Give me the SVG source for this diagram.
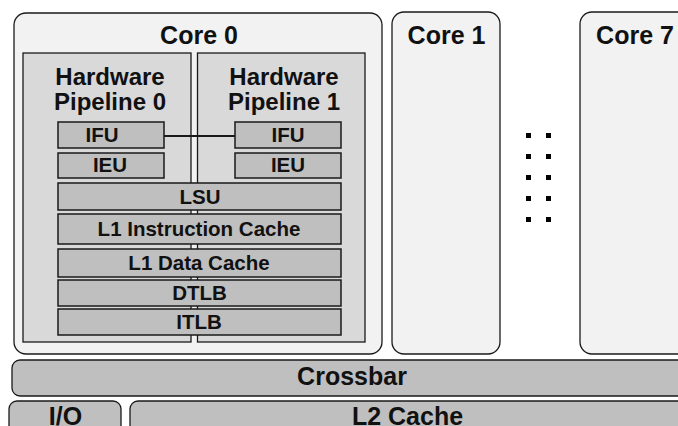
<svg xmlns="http://www.w3.org/2000/svg" width="678" height="426" viewBox="0 0 678 426">
<style>
text{font-family:"Liberation Sans",Arial,sans-serif;font-weight:bold;fill:#111;text-anchor:middle}
.core{fill:#f2f2f2;stroke:#1a1a1a;stroke-width:1.3}
.pipe{fill:#d9d9d9;stroke:#1a1a1a;stroke-width:1.3}
.unit{fill:#bfbfbf;stroke:#1a1a1a;stroke-width:1.5}
.bus{fill:#bfbfbf;stroke:#1a1a1a;stroke-width:1.3}
.big{font-size:25px}
.mid{font-size:24px}
.sm{font-size:20.5px}
.dot{fill:#000}
</style>
<rect width="678" height="426" fill="#ffffff"/>
<g id="core0">
<rect class="core" x="14" y="13" width="368" height="341" rx="12"/>
<text class="big" x="199" y="44">Core 0</text>
</g>
<g id="pipeline0">
<rect class="pipe" x="23" y="53" width="168" height="289"/>
<text class="mid" x="110" y="85">Hardware</text>
<text class="mid" x="110" y="110">Pipeline 0</text>
</g>
<g id="pipeline1">
<rect class="pipe" x="197.5" y="53" width="167.5" height="289"/>
<text class="mid" x="284" y="85">Hardware</text>
<text class="mid" x="284" y="110">Pipeline 1</text>
</g>
<g id="connectors">
<line x1="164" y1="136" x2="235" y2="136" stroke="#1a1a1a" stroke-width="1.8"/>
</g>
<g id="ifu0">
<rect class="unit" x="58" y="122" width="106" height="26"/>
<text class="sm" x="102" y="142">IFU</text>
</g>
<g id="ieu0">
<rect class="unit" x="58" y="153" width="106" height="25"/>
<text class="sm" x="110" y="171.5">IEU</text>
</g>
<g id="ifu1">
<rect class="unit" x="235" y="122" width="106" height="26"/>
<text class="sm" x="288" y="142">IFU</text>
</g>
<g id="ieu1">
<rect class="unit" x="235" y="153" width="106" height="25"/>
<text class="sm" x="288" y="171.5">IEU</text>
</g>
<g id="lsu">
<rect class="unit" x="58" y="183" width="283" height="27"/>
<text class="sm" x="200" y="203.5">LSU</text>
</g>
<g id="l1i">
<rect class="unit" x="58" y="214" width="283" height="30"/>
<text class="sm" x="199" y="236">L1 Instruction Cache</text>
</g>
<g id="l1d">
<rect class="unit" x="58" y="249" width="283" height="28"/>
<text class="sm" x="199" y="269.5">L1 Data Cache</text>
</g>
<g id="dtlb">
<rect class="unit" x="58" y="280" width="283" height="26"/>
<text class="sm" x="199.5" y="299.5">DTLB</text>
</g>
<g id="itlb">
<rect class="unit" x="58" y="309" width="283" height="26"/>
<text class="sm" x="199" y="328.5">ITLB</text>
</g>
<g id="core1">
<rect class="core" x="392" y="12" width="108" height="342" rx="12"/>
<text class="big" x="446.5" y="44">Core 1</text>
</g>
<g id="ellipsis">
<rect class="dot" x="526" y="133" width="5" height="5"/>
<rect class="dot" x="546" y="133" width="5" height="5"/>
<rect class="dot" x="526" y="154" width="5" height="5"/>
<rect class="dot" x="546" y="154" width="5" height="5"/>
<rect class="dot" x="526" y="175" width="5" height="5"/>
<rect class="dot" x="546" y="175" width="5" height="5"/>
<rect class="dot" x="526" y="196" width="5" height="5"/>
<rect class="dot" x="546" y="196" width="5" height="5"/>
<rect class="dot" x="526" y="217" width="5" height="5"/>
<rect class="dot" x="546" y="217" width="5" height="5"/>
</g>
<g id="core7">
<rect class="core" x="580" y="12" width="120" height="342" rx="12"/>
<text class="big" x="635" y="44">Core 7</text>
</g>
<g id="crossbar">
<rect class="bus" x="12" y="360" width="680" height="36" rx="8"/>
<text class="big" x="352" y="385">Crossbar</text>
</g>
<g id="io">
<rect class="bus" x="9" y="401" width="112" height="40" rx="8"/>
<text class="big" x="65.5" y="425">I/O</text>
</g>
<g id="l2">
<rect class="bus" x="130" y="401" width="560" height="40" rx="8"/>
<text class="big" x="407.5" y="425">L2 Cache</text>
</g>
</svg>
